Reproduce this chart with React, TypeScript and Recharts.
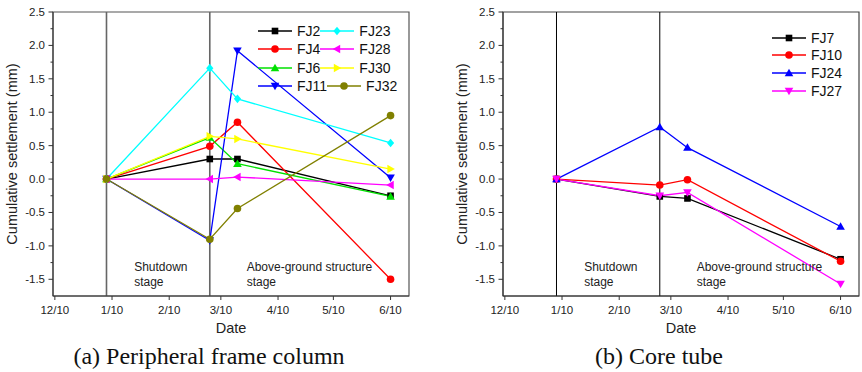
import React from "react";
import { LineChart, Line, XAxis, YAxis, ReferenceLine, ReferenceArea, ReferenceDot } from "recharts";

// x values: days after 12/10
const measureDays = [28, 84, 99, 182];
const xTickDays = [0, 31, 62, 90, 121, 151, 182];
const xTickLabels = ["12/10", "1/10", "2/10", "3/10", "4/10", "5/10", "6/10"];
const yMajorTicks = [-1.5, -1, -0.5, 0, 0.5, 1, 1.5, 2, 2.5];
const yMinorTicks = [-1.25, -0.75, -0.25, 0.25, 0.75, 1.25, 1.75, 2.25];
const stageLines = [28, 84];

// (a) Peripheral frame column
const fj2 = [0, 0.3, 0.3, -0.25];
const fj4 = [0, 0.49, 0.85, -1.5];
const fj6 = [0, 0.62, 0.23, -0.26];
const fj11 = [0, -0.92, 1.92, 0.02];
const fj23 = [0, 1.66, 1.2, 0.54];
const fj28 = [0, 0, 0.03, -0.09];
const fj30 = [0, 0.64, 0.6, 0.15];
const fj32 = [0, -0.9, -0.44, 0.95];

// (b) Core tube
const fj7 = [0, -0.26, -0.29, -1.2];
const fj10 = [0, -0.09, -0.01, -1.23];
const fj24 = [0, 0.78, 0.47, -0.71];
const fj27 = [0, -0.25, -0.2, -1.57];

type Series = { name: string; color: string; shape: string; values: number[] };

const seriesA: Series[] = [
  { name: "FJ2", color: "#000000", shape: "square", values: fj2 },
  { name: "FJ4", color: "#FF0000", shape: "circle", values: fj4 },
  { name: "FJ6", color: "#00E000", shape: "up", values: fj6 },
  { name: "FJ11", color: "#0000FF", shape: "down", values: fj11 },
  { name: "FJ23", color: "#00FFFF", shape: "diamond", values: fj23 },
  { name: "FJ28", color: "#FF00FF", shape: "left", values: fj28 },
  { name: "FJ30", color: "#FFFF00", shape: "right", values: fj30 },
  { name: "FJ32", color: "#808000", shape: "circle", values: fj32 },
];
const legendRowsA = [
  ["FJ2", "FJ23"],
  ["FJ4", "FJ28"],
  ["FJ6", "FJ30"],
  ["FJ11", "FJ32"],
];

const seriesB: Series[] = [
  { name: "FJ7", color: "#000000", shape: "square", values: fj7 },
  { name: "FJ10", color: "#FF0000", shape: "circle", values: fj10 },
  { name: "FJ24", color: "#0000FF", shape: "up", values: fj24 },
  { name: "FJ27", color: "#FF00FF", shape: "down", values: fj27 },
];

const buildData = (series: Series[]) =>
  measureDays.map((d, i) => {
    const row: any = { day: d };
    series.forEach((s) => (row[s.name] = s.values[i]));
    return row;
  });

const FONT = "'Liberation Sans', Arial, sans-serif";

function Marker({ cx, cy, shape, color }: { cx: number; cy: number; shape: string; color: string }) {
  const h = 3.6;
  switch (shape) {
    case "square":
      return <rect x={cx - 3.3} y={cy - 3.3} width={6.6} height={6.6} fill={color} />;
    case "circle":
      return <circle cx={cx} cy={cy} r={3.8} fill={color} />;
    case "up":
      return <polygon points={`${cx},${cy - 4.3} ${cx + 4.3},${cy + 3.2} ${cx - 4.3},${cy + 3.2}`} fill={color} />;
    case "down":
      return <polygon points={`${cx},${cy + 4.3} ${cx + 4.3},${cy - 3.2} ${cx - 4.3},${cy - 3.2}`} fill={color} />;
    case "left":
      return <polygon points={`${cx - 4.3},${cy} ${cx + 3.2},${cy - 4.3} ${cx + 3.2},${cy + 4.3}`} fill={color} />;
    case "right":
      return <polygon points={`${cx + 4.3},${cy} ${cx - 3.2},${cy - 4.3} ${cx - 3.2},${cy + 4.3}`} fill={color} />;
    case "diamond":
      return <polygon points={`${cx},${cy - 4.3} ${cx + h},${cy} ${cx},${cy + 4.3} ${cx - h},${cy}`} fill={color} />;
  }
  return null;
}

const XTick = (props: any) => {
  const { x, y, payload } = props;
  const idx = xTickDays.indexOf(payload.value);
  return (
    <g>
      <line x1={x} y1={y} x2={x} y2={y + 4} stroke="#333" strokeWidth={1} />
      <text x={x} y={y + 18} textAnchor="middle" fontSize={11.5} fontFamily={FONT} fill="#222">
        {idx >= 0 ? xTickLabels[idx] : ""}
      </text>
    </g>
  );
};

const YTick = (props: any) => {
  const { x, y, payload } = props;
  const major = yMajorTicks.includes(payload.value);
  return (
    <g>
      <line x1={x - (major ? 4.5 : 2.5)} y1={y} x2={x} y2={y} stroke="#333" strokeWidth={1} />
      {major && (
        <text x={x - 8} y={y + 4} textAnchor="end" fontSize={11.5} fontFamily={FONT} fill="#222">
          {payload.value.toFixed(1)}
        </text>
      )}
    </g>
  );
};

const stageText = (lines: string[]) => (p: any) =>
  (
    <text x={p.cx} y={p.cy} fontSize={12} fontFamily={FONT} fill="#222">
      {lines.map((l, i) => (
        <tspan key={i} x={p.cx} dy={i === 0 ? 0 : 15}>
          {l}
        </tspan>
      ))}
    </text>
  );

function Panel({ series, frameColor, lineColor, lineWidth, margin }: any) {
  const data = buildData(series);
  return (
    <LineChart width={430 - 21 + margin.right} height={372} data={data} margin={margin}>
      <XAxis
        dataKey="day"
        type="number"
        domain={[-1, 192]}
        ticks={xTickDays}
        allowDataOverflow
        height={30}
        tickSize={0}
        tickMargin={0}
        tickLine={false}
        axisLine={{ stroke: "#333" }}
        tick={<XTick />}
        interval={0}
      />
      <YAxis
        type="number"
        domain={[-1.75, 2.5]}
        ticks={[...yMajorTicks, ...yMinorTicks].sort((a, b) => a - b)}
        allowDataOverflow
        width={40}
        tickSize={0}
        tickMargin={0}
        tickLine={false}
        axisLine={{ stroke: "#333" }}
        tick={<YTick />}
        interval={0}
      />
      <ReferenceArea x1={-1} x2={192} y1={-1.75} y2={2.5} fill="none" stroke={frameColor} strokeWidth={1.2} />
      {stageLines.map((d) => (
        <ReferenceLine key={d} x={d} stroke={lineColor} strokeWidth={lineWidth} />
      ))}
      <ReferenceDot x={43} y={-1.37} r={1} shape={stageText(["Shutdown", "stage"])} />
      <ReferenceDot x={104} y={-1.37} r={1} shape={stageText(["Above-ground structure", "stage"])} />
      {series.map((s: Series) => (
        <Line
          key={s.name}
          dataKey={s.name}
          stroke={s.color}
          strokeWidth={1.3}
          isAnimationActive={false}
          activeDot={false}
          dot={(p: any) => <Marker key={`${s.name}-${p.index}`} cx={p.cx} cy={p.cy} shape={s.shape} color={s.color} />}
        />
      ))}
    </LineChart>
  );
}

const findSeries = (list: Series[], name: string) => list.find((s) => s.name === name)!;

function LegendSample({ s, w }: { s: Series; w: number }) {
  return (
    <svg width={w} height={16} style={{ display: "block" }}>
      <line x1={0} y1={8} x2={w} y2={8} stroke={s.color} strokeWidth={1.5} />
      <Marker cx={w / 2} cy={8} shape={s.shape} color={s.color} />
    </svg>
  );
}

function LegendItem({ s }: { s: Series }) {
  return (
    <div style={{ display: "flex", alignItems: "center" }}>
      <LegendSample s={s} w={34} />
      <span style={{ marginLeft: 5, fontSize: 14, fontFamily: FONT, color: "#111", lineHeight: "16px" }}>{s.name}</span>
    </div>
  );
}

export default function App() {
  return (
    <div style={{ position: "absolute", left: 0, top: 0, width: 862, height: 372, background: "#fff" }}>
      <div style={{ position: "absolute", left: 0, top: 0 }}>
        <Panel series={seriesA} frameColor="#555" lineColor="#666" lineWidth={1.6} margin={{ top: 12, right: 21, bottom: 46, left: 13 }} />
      </div>
      <div style={{ position: "absolute", left: 450, top: 0 }}>
        <Panel series={seriesB} frameColor="#444" lineColor="#000" lineWidth={1} margin={{ top: 12, right: 3, bottom: 46, left: 13 }} />
      </div>

      {/* Legend (a) */}
      <div style={{ position: "absolute", left: 258, top: 22 }}>
        {legendRowsA.map((row, i) => (
          <div key={i} style={{ display: "flex", alignItems: "center", height: 18.3 }}>
            {row.map((n) => (
              <LegendItem key={n} s={findSeries(seriesA, n)} />
            ))}
          </div>
        ))}
      </div>
      {/* Legend (b) */}
      <div style={{ position: "absolute", left: 772, top: 29 }}>
        {seriesB.map((s) => (
          <div key={s.name} style={{ display: "flex", alignItems: "center", height: 17.6 }}>
            <LegendItem s={s} />
          </div>
        ))}
      </div>

      <svg width={862} height={372} style={{ position: "absolute", left: 0, top: 0, pointerEvents: "none" }}>
        <text x={12} y={154} transform="rotate(-90 12 154)" textAnchor="middle" dominantBaseline="central" fontSize={14.5} fontFamily={FONT} fill="#222">
          Cumulative settlement (mm)
        </text>
        <text x={462} y={154} transform="rotate(-90 462 154)" textAnchor="middle" dominantBaseline="central" fontSize={14.5} fontFamily={FONT} fill="#222">
          Cumulative settlement (mm)
        </text>
        <text x={231} y={332.5} textAnchor="middle" fontSize={14.5} fontFamily={FONT} fill="#222">Date</text>
        <text x={681} y={332.5} textAnchor="middle" fontSize={14.5} fontFamily={FONT} fill="#222">Date</text>
        <text x={209} y={363.5} textAnchor="middle" fontSize={24} fontFamily="'Liberation Serif', 'Times New Roman', serif" fill="#111">
          (a) Peripheral frame column
        </text>
        <text x={659} y={363.5} textAnchor="middle" fontSize={24} fontFamily="'Liberation Serif', 'Times New Roman', serif" fill="#111">
          (b) Core tube
        </text>
      </svg>
    </div>
  );
}
